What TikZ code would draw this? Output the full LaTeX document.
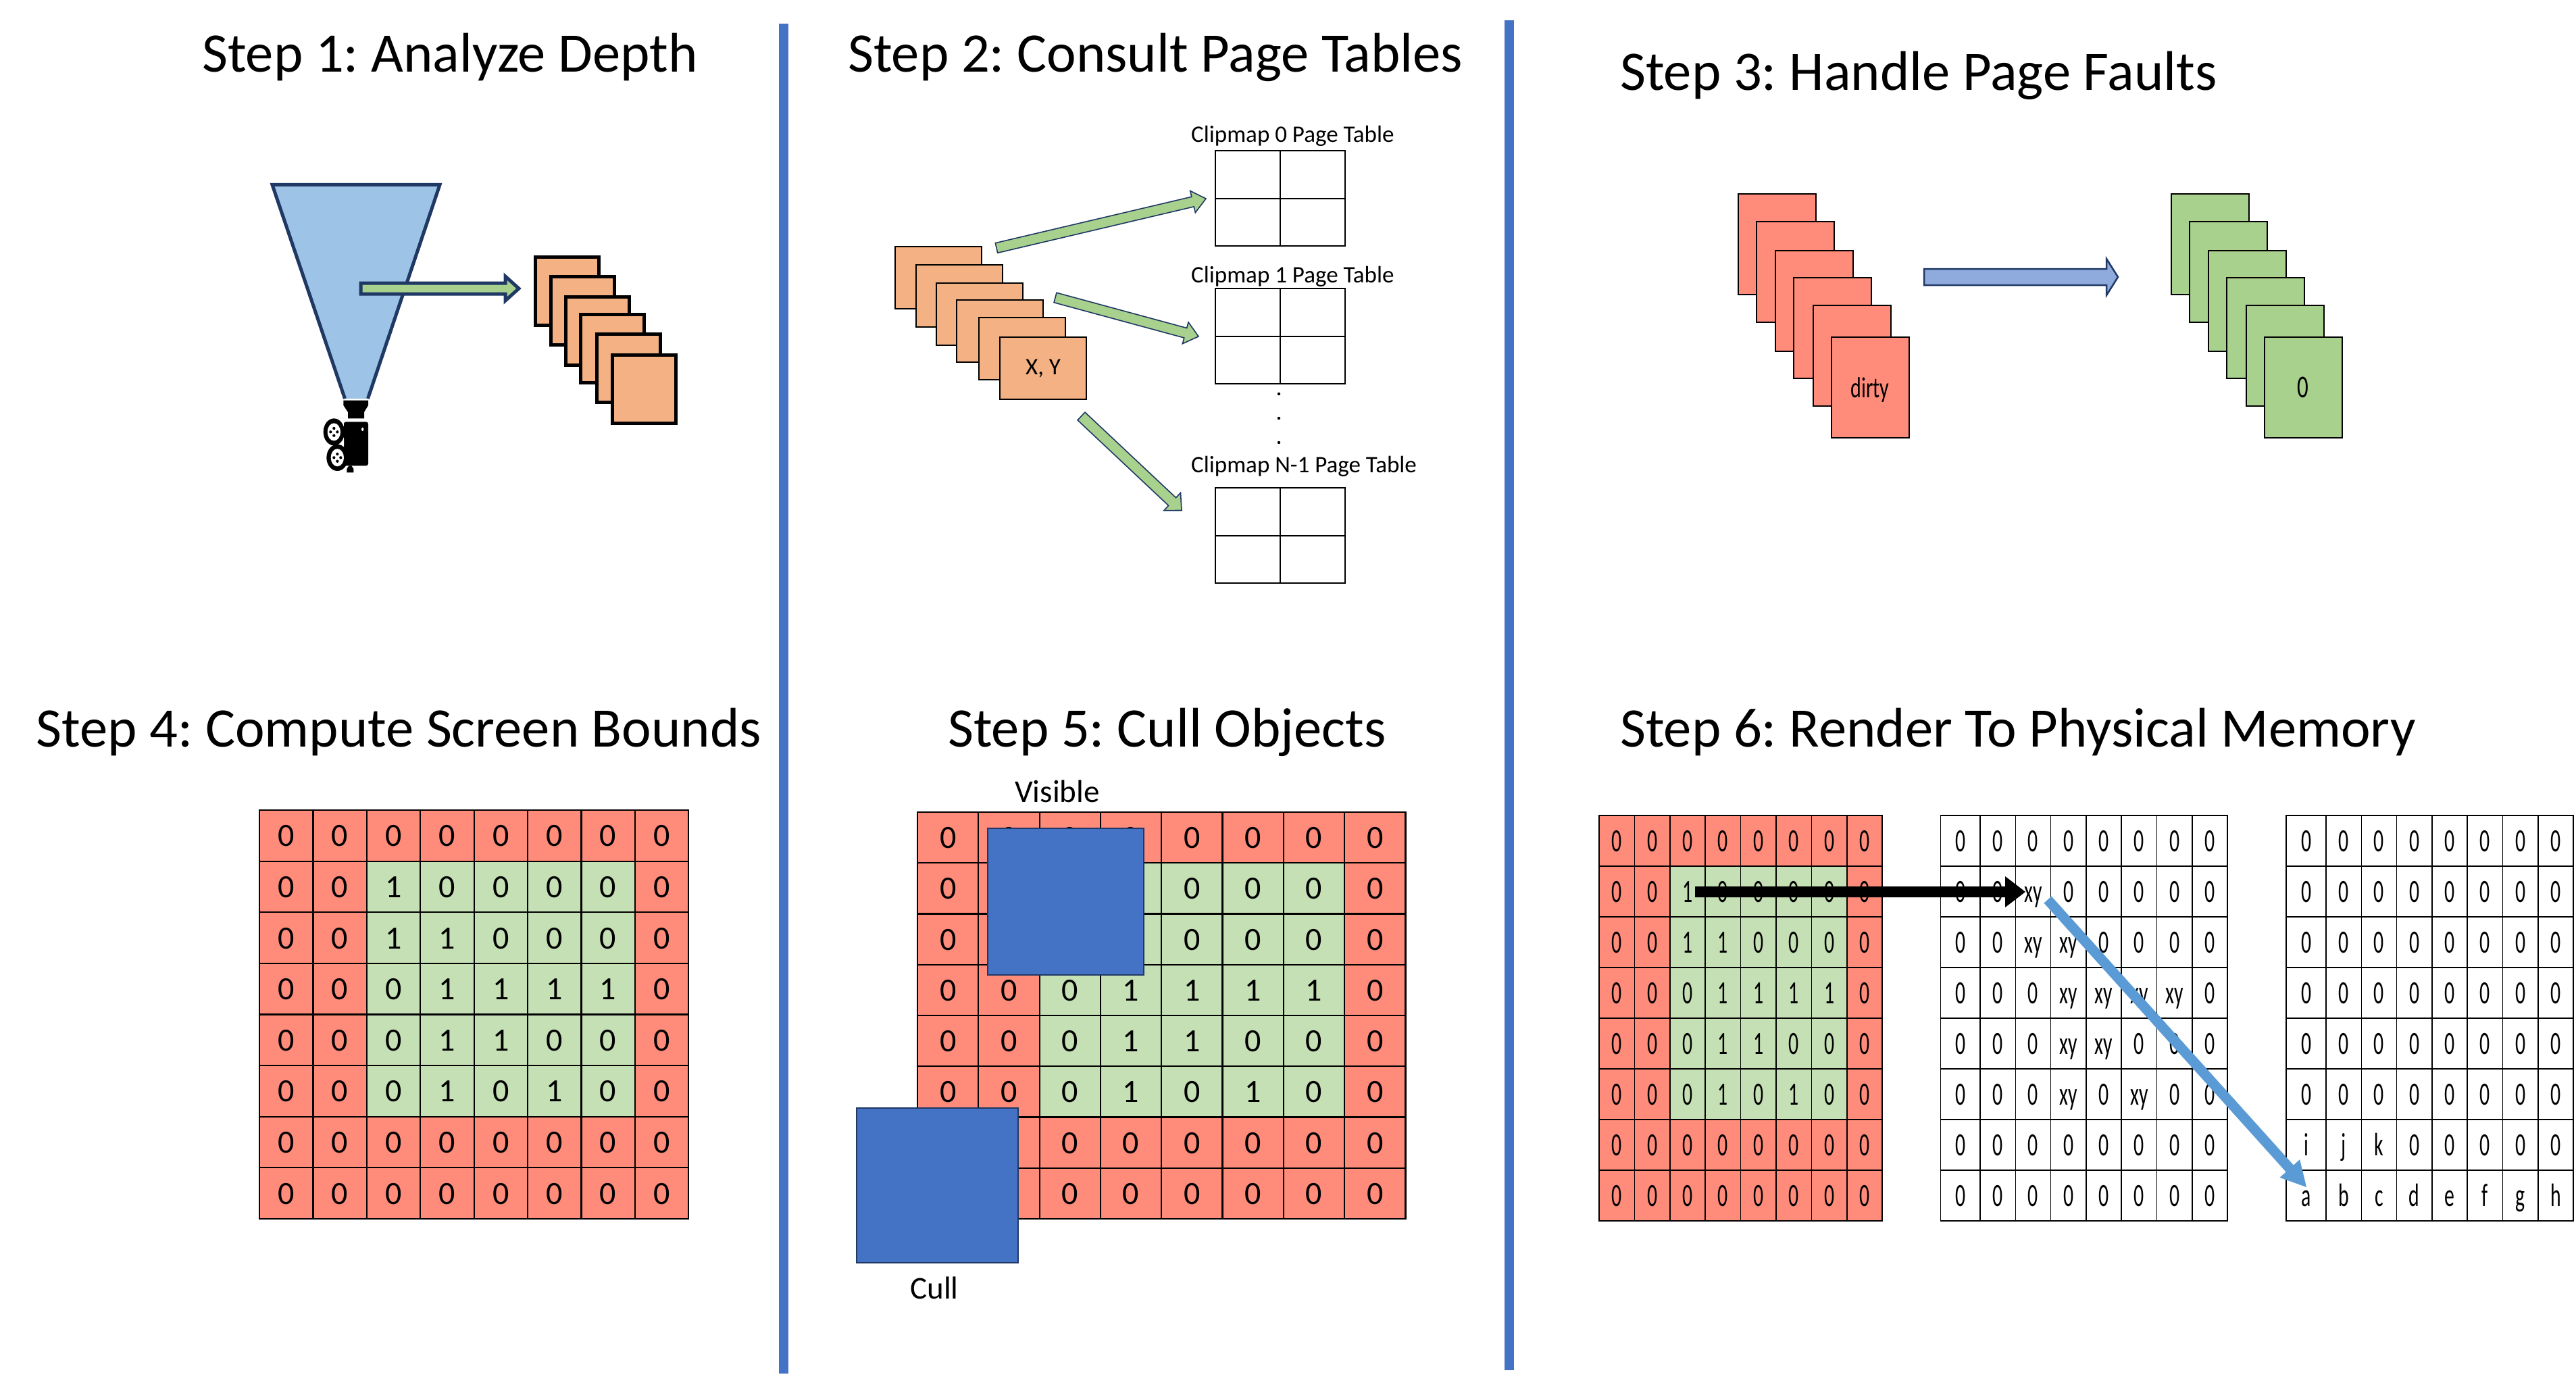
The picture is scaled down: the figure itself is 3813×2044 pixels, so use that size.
\documentclass[tikz,border=0pt]{standalone}
\usepackage{fontspec}
\setmainfont{Carlito}
\usetikzlibrary{calc}
\definecolor{redfill}{HTML}{FF8B7B}
\definecolor{greenfill}{HTML}{C5E0B4}
\definecolor{greenmid}{HTML}{A9D18E}
\definecolor{orangefill}{HTML}{F4B183}
\definecolor{bluefill}{HTML}{4472C4}
\definecolor{navy}{HTML}{1F3864}
\definecolor{sky}{HTML}{9DC3E6}
\definecolor{periw}{HTML}{8FAADC}
\definecolor{steel}{HTML}{5B9BD5}
\newcommand{\fs}[1]{\fontsize{#1}{#1}\selectfont\frenchspacing}
\def\gridlw{2.5pt}
\tikzset{
  titletext/.style={anchor=base west,inner sep=0pt,font=\fs{82.6}},
  lbl/.style={inner sep=0pt,font=\fs{47}},
  smalllbl/.style={inner sep=0pt,font=\fs{35}},
  divider/.style={draw=bluefill,line width=14pt},
  cardA/.style={draw=black,line width=5pt,fill=orangefill,anchor=north west,minimum width=94pt,minimum height=101pt,inner sep=0pt,outer sep=0pt},
  cardB/.style={draw=black,line width=2.5pt,fill=orangefill,anchor=north west,minimum width=128pt,minimum height=92pt,inner sep=0pt,outer sep=0pt},
  cardC/.style={draw=black,line width=2.5pt,anchor=north west,minimum width=115pt,minimum height=149pt,inner sep=0pt,outer sep=0pt},
  ptable/.style={draw=black,line width=2pt,fill=white,anchor=north west,minimum width=192pt,minimum height=141pt,inner sep=0pt,outer sep=0pt},
  ptline/.style={draw=black,line width=2pt},
  cellnode/.style={draw=black,line width=\gridlw,anchor=north west,inner sep=0pt,outer sep=0pt,align=center,text height=32pt,text depth=0pt},
  bigblue/.style={draw=navy,line width=2pt,fill=bluefill,anchor=north west,inner sep=0pt,outer sep=0pt},
  greenarrow/.style={draw=navy,line width=1.6pt,fill=greenmid,miter limit=10},
}
% style, from, to, shaft half-width, head half-width, head length
\newcommand{\blockarrow}[6]{%
  \coordinate (ba-b) at ($(#3)!#6pt!(#2)$);
  \draw[#1] ($(#2)!#4pt!90:(#3)$) -- ($(ba-b)!#4pt!90:(#3)$) -- ($(ba-b)!#5pt!90:(#3)$) -- (#3)
    -- ($(ba-b)!#5pt!-90:(#3)$) -- ($(ba-b)!#4pt!-90:(#3)$) -- ($(#2)!#4pt!-90:(#3)$) -- cycle;
}
% name, x of first col, x of second col, col width, y top, row height, font size, xscale, mode(0 plain,1 coloured), then rows macro
\newcommand{\cellgrid}[9]{%
  \def\gridxa{#2}\def\gridxb{#3}\def\gridw{#4}\def\gridy{#5}\def\gridh{#6}\def\gridfs{#7}\def\gridsx{#8}\def\gridmode{#9}%
  \cellgridrows{#1}%
}
\newcommand{\cellgridrows}[2]{%
  \foreach \rowlist [count=\j from 0] in #2 {
    \foreach \v [count=\i from 0] in \rowlist {
      \pgfmathsetmacro{\cl}{\i==0 ? \gridxa : \gridxb+(\i-1)*\gridw}
      \pgfmathsetmacro{\cw}{\i==0 ? (\gridxb-\gridxa) : \gridw}
      \pgfmathsetmacro{\ct}{\gridy+\j*\gridh}
      \pgfmathtruncatemacro{\incore}{(\i>=2 && \i<=6 && \j>=1 && \j<=5) ? 1 : 0}
      \ifnum\gridmode=1
        \ifnum\incore=1 \def\cfill{greenfill}\else \def\cfill{redfill}\fi
      \else \def\cfill{white}\fi
      \node[cellnode,fill=\cfill,minimum width=\cw pt,minimum height=\gridh pt,font=\fs{\gridfs}]
        (#1-\j-\i) at (\cl,\ct) {\scalebox{\gridsx}[1]{\v}};
    }
  }
}
\def\maskrows{{0,0,0,0,0,0,0,0},{0,0,1,0,0,0,0,0},{0,0,1,1,0,0,0,0},{0,0,0,1,1,1,1,0},{0,0,0,1,1,0,0,0},{0,0,0,1,0,1,0,0},{0,0,0,0,0,0,0,0},{0,0,0,0,0,0,0,0}}
\def\xyrows{{0,0,0,0,0,0,0,0},{0,0,xy,0,0,0,0,0},{0,0,xy,xy,0,0,0,0},{0,0,0,xy,xy,xy,xy,0},{0,0,0,xy,xy,0,0,0},{0,0,0,xy,0,xy,0,0},{0,0,0,0,0,0,0,0},{0,0,0,0,0,0,0,0}}
\def\physrows{{0,0,0,0,0,0,0,0},{0,0,0,0,0,0,0,0},{0,0,0,0,0,0,0,0},{0,0,0,0,0,0,0,0},{0,0,0,0,0,0,0,0},{0,0,0,0,0,0,0,0},{i,j,k,0,0,0,0,0},{a,b,c,d,e,f,g,h}}
\begin{document}
\begin{tikzpicture}[x=1pt,y=-1pt]
\useasboundingbox (0,0) rectangle (3813,2044);
\fill[white] (0,0) rectangle (3813,2044);
% dividers
\coordinate (d1t) at (1160,35); \coordinate (d1b) at (1160,2033);
\coordinate (d2t) at (2234,30); \coordinate (d2b) at (2234,2028);
\draw[divider] (d1t) -- (d1b);
\draw[divider] (d2t) -- (d2b);
% titles
\node[titletext] (t1) at (299,107) {Step 1: Analyze Depth};
\node[titletext] (t2) at (1255,107) {Step 2: Consult Page Tables};
\node[titletext] (t3) at (2398,134) {Step 3: Handle Page Faults};
\node[titletext] (t4) at (53.5,1105) {Step 4: Compute Screen Bounds};
\node[titletext] (t5) at (1403,1105) {Step 5: Cull Objects};
\node[titletext] (t6) at (2398,1105) {Step 6: Render To Physical Memory};
% step 1
\fill[sky] (403,273.5) -- (651,273.5) -- (544.5,590) -- (510.5,590) -- cycle;
\draw[navy,line width=5pt,miter limit=10] (510.5,590) -- (403,273.5) -- (651,273.5) -- (544.5,590);
\foreach \x/\y [count=\n] in {792.5/380.5,815.5/409.5,837.5/439.5,859.5/465.5,883.5/494.5,906.5/525.5}
  \node[cardA] (sa-\n) at (\x,\y) {};
\coordinate (a1s) at (534,427); \coordinate (a1e) at (768,427);
\blockarrow{draw=navy,line width=5pt,fill=greenmid,miter limit=10}{a1s}{a1e}{8}{18}{20}
\begin{scope}[shift={(440,570)},scale=1/3]
  \fill[black] (205,68) -- (315,68) -- (315,90) -- (297,120) -- (297,148) -- (225,148) -- (225,120) -- (205,90) -- cycle;
  \fill[black,rounded corners=3pt] (207,163) rectangle (315,358);
  \fill[black] (220,388) -- (250,388) -- (250,372) -- (241,358) -- (229,358) -- (220,372) -- cycle;
  \fill[white] (290,196) ellipse [x radius=5,y radius=8];
  \fill[white] (207,240) -- (207,272) -- (194,264) -- cycle;
  \fill[black] (163,208) ellipse [x radius=47,y radius=60];
  \fill[white] (163,208) ellipse [x radius=29,y radius=39];
  \fill[black] (178,322) ellipse [x radius=48,y radius=59];
  \fill[white] (178,322) ellipse [x radius=29,y radius=39];
  \foreach \cx/\cy in {163/208,178/322} {
    \fill[black] (\cx,\cy-16) circle [radius=6.5];
    \fill[black] (\cx-15,\cy) circle [radius=6.5];
    \fill[black] (\cx+15,\cy) circle [radius=6.5];
    \fill[black] (\cx,\cy+16) circle [radius=6.5];
  }
\end{scope}
% step 2
\foreach \x/\y [count=\n] in {1325/365,1356/392,1386/419,1416/444,1449/470,1480/499}
  \node[cardB] (sb-\n) at (\x,\y) {};
\node[lbl,font=\fs{35}] (xy) at ([yshift=-1pt]sb-6.center) {X, Y};
\foreach \y/\n in {223/0,427/1,722/2} {
  \node[ptable] (pt\n) at (1799,\y) {};
  \draw[ptline] (pt\n.north) -- (pt\n.south);
  \draw[ptline] (pt\n.west) -- (pt\n.east);
}
\node[smalllbl,anchor=west] (pl0) at (1763,201) {Clipmap 0 Page Table};
\node[smalllbl,anchor=west] (pl1) at (1763,409) {Clipmap 1 Page Table};
\node[smalllbl,anchor=west] (pl2) at (1763,690) {Clipmap N-1 Page Table};
\foreach \y/\n in {583/1,619/2,655/3}
  \fill[black] (1893,\y) circle [radius=2.2];
\coordinate (b1s) at (1475,367); \coordinate (b1e) at (1785,294);
\coordinate (b2s) at (1562,440.5); \coordinate (b2e) at (1774,498);
\coordinate (b3s) at (1600.5,616); \coordinate (b3e) at (1749,755.5);
\blockarrow{greenarrow}{b1s}{b1e}{7.5}{16.5}{20}
\blockarrow{greenarrow}{b2s}{b2e}{7.5}{16.5}{20}
\blockarrow{greenarrow}{b3s}{b3e}{8}{18}{19}
% step 3
\foreach \x/\y [count=\n] in {2573/287,2600/328,2628/371,2655/411,2684/452,2711/499}
  \node[cardC,fill=redfill] (sc-\n) at (\x,\y) {};
\foreach \x/\y [count=\n] in {3214/287,3241/328,3269/371,3296/411,3325/452,3352/499}
  \node[cardC,fill=greenmid] (sd-\n) at (\x,\y) {};
\node[inner sep=0pt,font=\fs{43}] (dirty) at (2768,577) {\scalebox{0.7}[1]{dirty}};
\node[inner sep=0pt,font=\fs{47}] (zero) at (3409,573) {\scalebox{0.7}[1]{0}};
\coordinate (c1s) at (2848,410); \coordinate (c1e) at (3135,410);
\blockarrow{draw=navy,line width=2.5pt,fill=periw,miter limit=10}{c1s}{c1e}{12}{27}{17}
% step 4
\def\gridlw{2.2pt}
\cellgrid{gf}{384}{463.4}{79.4}{1199}{75.6}{48}{1}{1}\maskrows
% step 5
\cellgrid{gv}{1358}{1448.3}{90.3}{1202}{75.25}{48}{1}{1}\maskrows
\node[bigblue,minimum width=231pt,minimum height=217pt] (vis) at (1462,1226) {};
\node[bigblue,minimum width=239pt,minimum height=229pt] (cul) at (1268,1640) {};
\node[lbl] (vislbl) at (1565,1171) {Visible};
\node[lbl] (cullbl) at (1383,1906) {Cull};
% step 6
\def\gridlw{1.6pt}
\cellgrid{gm}{2367}{2419.4}{52.4}{1207}{75}{48}{0.62}{1}\maskrows
\cellgrid{gx}{2872.5}{2931}{52.3}{1207}{75}{48}{0.62}{0}\xyrows
\cellgrid{gp}{3384}{3443}{52.3}{1207}{75}{48}{0.62}{0}\physrows
\coordinate (e1s) at (2509,1320); \coordinate (e1e) at (2998,1320);
\coordinate (e2s) at (3031,1331.6); \coordinate (e2e) at (3414,1757);
\blockarrow{draw=none,fill=steel}{e2s}{e2e}{7.5}{20}{37}
\blockarrow{draw=none,fill=black}{e1s}{e1e}{8}{23}{30}
\end{tikzpicture}
\end{document}
